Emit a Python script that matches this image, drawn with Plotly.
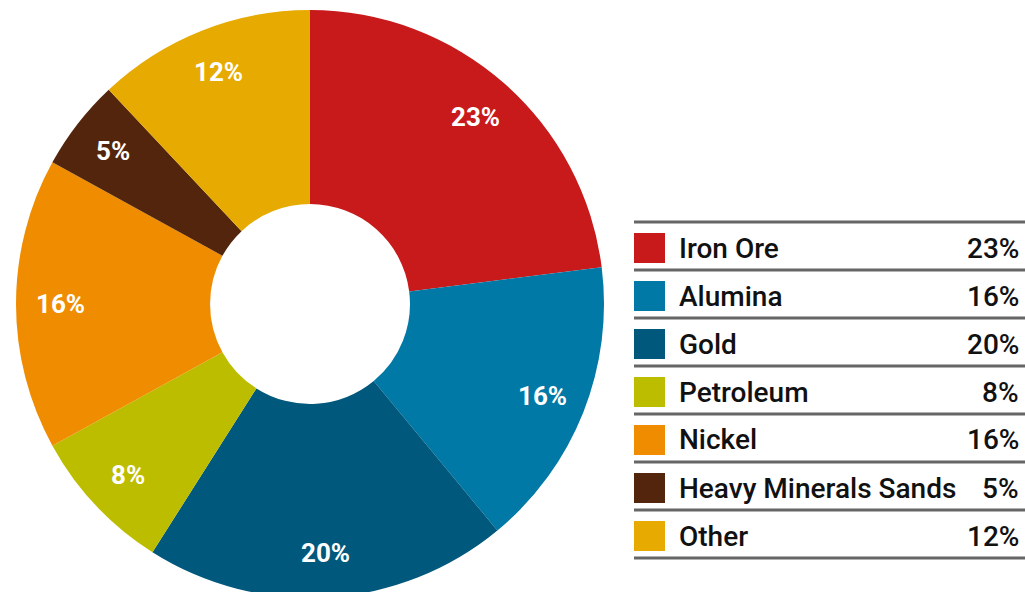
import math
import plotly.graph_objects as go

# ---- data ----
categories = ["Iron Ore", "Alumina", "Gold", "Petroleum", "Nickel", "Heavy Minerals Sands", "Other"]
shares = [23, 16, 20, 8, 16, 5, 12]
colors = ["#C8191B", "#0079A6", "#00587C", "#BDBD00", "#F08C00", "#53250C", "#E6AA00"]

W, H = 1025, 600
FONT = "Roboto, DejaVu Sans, sans-serif"

# pie geometry (pixels from top-left)
cx, cy, R = 310, 304, 294
hole = 0.34

fig = go.Figure()
fig.add_trace(go.Pie(
    labels=categories, values=shares, sort=False, direction="clockwise", rotation=0,
    hole=hole, marker=dict(colors=colors, line=dict(width=0)),
    textinfo="none", hoverinfo="label+percent", showlegend=False,
    domain=dict(x=[(cx - R) / W, (cx + R) / W], y=[1 - (cy + R) / H, 1 - (cy - R) / H]),
))

annotations = []
shapes = []
total = sum(shares)
cum = 0
r_lab = 0.85 * R
for v in shares:
    th = 2 * math.pi * (cum + v / 2) / total
    px = cx + r_lab * math.sin(th)
    py = cy - r_lab * math.cos(th)
    annotations.append(dict(x=px / W, y=1 - py / H, xref="paper", yref="paper",
                            xanchor="center", yanchor="middle",
                            text=f"{v}%", showarrow=False,
                            font=dict(family=FONT, size=26, color="white", weight="bold")))
    cum += v

# legend table
top, row_h = 222, 48
x_left, x_right = 634, 1025
for i in range(len(categories) + 1):
    y = 1 - (top + i * row_h) / H
    shapes.append(dict(type="line", xref="paper", yref="paper", x0=x_left / W, x1=x_right / W,
                       y0=y, y1=y, line=dict(color="#666666", width=3)))
for i, (c, v, col) in enumerate(zip(categories, shares, colors)):
    yc = top + i * row_h + row_h / 2 + 2
    shapes.append(dict(type="rect", xref="paper", yref="paper", x0=634 / W, x1=665 / W,
                       y0=1 - (yc - 15) / H, y1=1 - (yc + 15) / H,
                       fillcolor=col, line=dict(width=0)))
    annotations.append(dict(x=677 / W, y=1 - yc / H, xref="paper", yref="paper", xanchor="left",
                            yanchor="middle", text=c, showarrow=False,
                            font=dict(family=FONT, size=28, color="#111111", weight=500)))
    annotations.append(dict(x=1021 / W, y=1 - yc / H, xref="paper", yref="paper", xanchor="right",
                            yanchor="middle", text=f"{v}%", showarrow=False,
                            font=dict(family=FONT, size=28, color="#111111", weight=500)))

fig.update_layout(width=W, height=H, margin=dict(l=0, r=0, t=0, b=0),
                  paper_bgcolor="white", plot_bgcolor="white",
                  annotations=annotations, shapes=shapes)
fig.write_html("out.html", config={"displayModeBar": False},
               post_script="document.body.style.margin='0';document.body.style.overflow='hidden';"
                           "document.documentElement.style.overflow='hidden';")
